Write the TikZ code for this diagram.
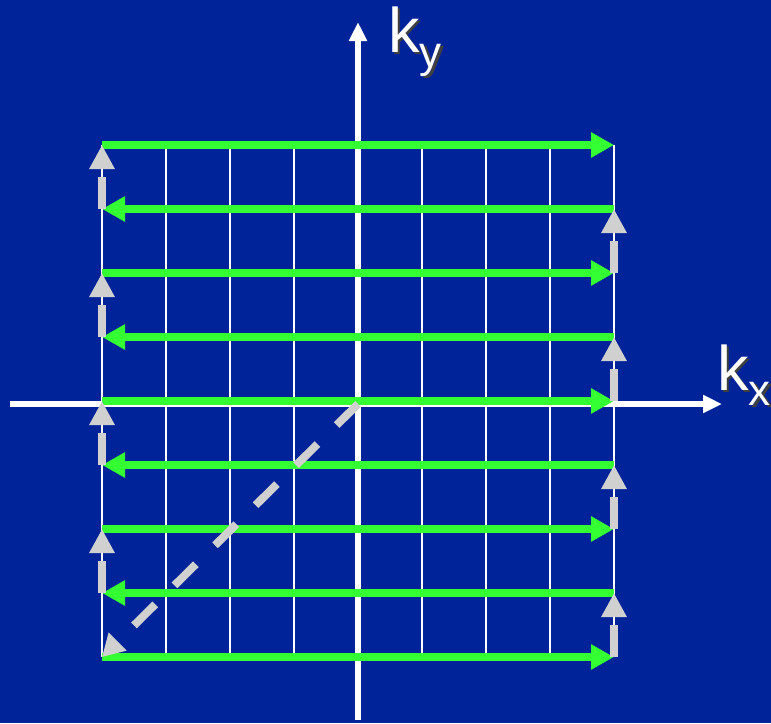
\documentclass[tikz,border=0pt]{standalone}
\usepackage{fontspec}
\setmainfont{Liberation Sans}
\usepackage{tikz}
\usetikzlibrary{arrows.meta}
\definecolor{kspaceblue}{HTML}{00239A}
\definecolor{kspacegreen}{HTML}{33FF33}
\definecolor{kspacegrey}{HTML}{D0D0D0}
\newcommand{\ksub}[1]{\raisebox{-15pt}{\fontsize{44}{44}\selectfont #1}}
\tikzset{
  gridline/.style={white,line width=2pt},
  axisline/.style={white,line width=6pt,-{Triangle[length=19pt,width=17pt]}},
  readout/.style={kspacegreen,line width=8pt,-{Triangle[length=23pt,width=24pt]}},
  blipline/.style={kspacegrey,line width=8pt,dash pattern=on 32pt off 8pt,-{Triangle[length=24pt,width=24pt]}},
  klabel/.style={inner sep=0pt,anchor=base west,font=\fontsize{63}{63}\selectfont},
}
\begin{document}
\begin{tikzpicture}[x=1pt,y=-1pt]
  \def\xo{102}\def\yt{145}\def\cs{64}
  \useasboundingbox (0,0) rectangle (771,723);
  \fill[kspaceblue] (0,0) rectangle (771,723);
  \foreach \j in {0,...,8}
    \draw[gridline] ({\xo+\j*\cs},\yt) -- ({\xo+\j*\cs},{\yt+8*\cs});
  \coordinate (O) at (358,404);
  \coordinate (kxa) at (10,404);  \coordinate (kxb) at (722,404);
  \coordinate (kya) at (358,720); \coordinate (kyb) at (358,22);
  \draw[axisline] (kxa) -- (kxb);
  \draw[axisline] (kya) -- (kyb);
  \foreach \i in {0,...,8} {
    \pgfmathsetmacro{\yy}{\yt+\i*\cs}
    \coordinate (L\i) at (\xo,\yy);
    \coordinate (R\i) at ({\xo+8*\cs},\yy);
  }
  \foreach \i in {0,2,4,6,8}
    \draw[readout] (L\i) -- (R\i);
  \foreach \i in {1,3,5,7}
    \draw[readout] (R\i) -- (L\i);
  \foreach \i/\j in {1/0,3/2,5/4,7/6}
    \draw[blipline] (L\i) -- (L\j);
  \foreach \i/\j in {8/7,6/5,4/3,2/1}
    \draw[blipline] (R\i) -- (R\j);
  \draw[blipline,dash pattern=on 30pt off 27pt,-{Triangle[length=22pt,width=24pt]}] (O) -- (L8);
  \node[klabel,black!75] (ky-shadow) at (390.5,54.5) {k\ksub{y}};
  \node[klabel,white] (ky) at (388,52) {k\ksub{y}};
  \node[klabel,black!75] (kx-shadow) at (719.5,392.5) {k\ksub{x}};
  \node[klabel,white] (kx) at (717,390) {k\ksub{x}};
\end{tikzpicture}
\end{document}
